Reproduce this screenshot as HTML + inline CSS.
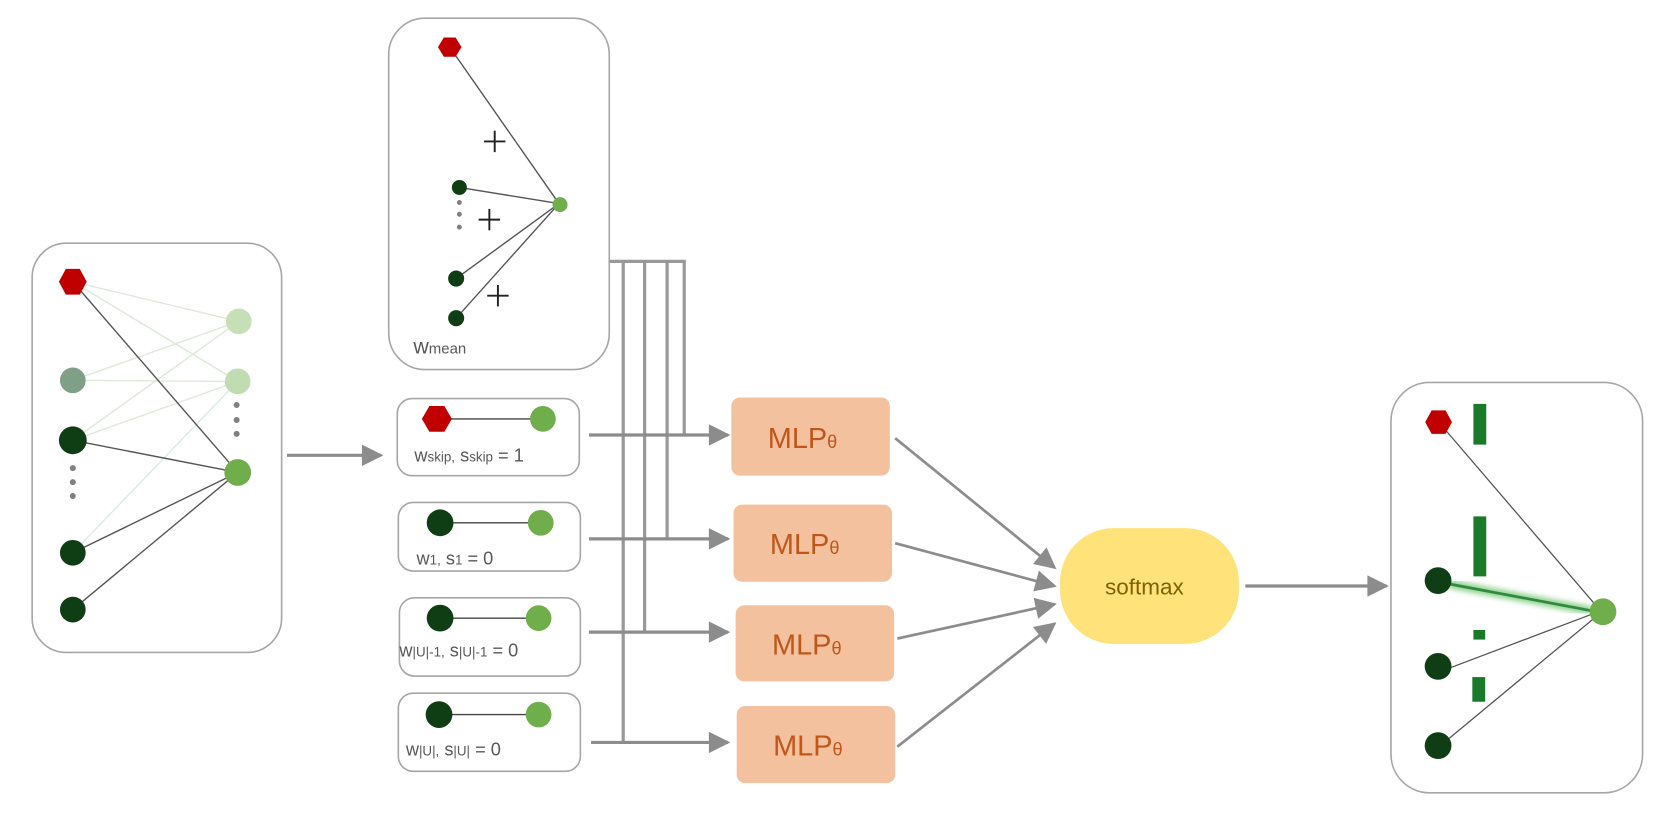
<!DOCTYPE html>
<html><head><meta charset="utf-8"><style>
html,body{margin:0;padding:0;background:#fff;}
svg{display:block;}
text{font-family:"Liberation Sans",sans-serif;}
</style></head><body>
<svg width="1679" height="826" viewBox="0 0 1568 771" preserveAspectRatio="none" xmlns="http://www.w3.org/2000/svg">
<defs>
<marker id="a2" viewBox="0 0 10 10" markerWidth="21" markerHeight="20" refX="9" refY="5" orient="auto" markerUnits="userSpaceOnUse"><path d="M0,0 L10,5 L0,10 Z" fill="#8c8c8c"/></marker>
<filter id="glow"><feGaussianBlur stdDeviation="2.5"/></filter>
</defs>

<!-- Left box -->
<rect x="30" y="227" width="233" height="382" rx="32" fill="#fff" stroke="#a6a6a6" stroke-width="1.5"/>
<g stroke-width="1.3">
<line x1="68" y1="263" x2="223" y2="300" stroke="#dfe8dc"/>
<line x1="68" y1="263" x2="222" y2="356" stroke="#dfe8dc"/>
<line x1="68" y1="355" x2="223" y2="300" stroke="#dfe8dc"/>
<line x1="68" y1="355" x2="222" y2="356" stroke="#dfe8dc"/>
<line x1="68" y1="411" x2="223" y2="300" stroke="#dfe8dc"/>
<line x1="68" y1="411" x2="222" y2="356" stroke="#dfe8dc"/>
<line x1="68" y1="516" x2="222" y2="356" stroke="#d9ebe3"/>
<line x1="68" y1="263" x2="222" y2="441" stroke="#555"/>
<line x1="68" y1="411" x2="222" y2="441" stroke="#555"/>
<line x1="68" y1="516" x2="222" y2="441" stroke="#555"/>
<line x1="68" y1="569" x2="222" y2="441" stroke="#555"/>
</g>
<polygon points="55,263 61.5,251 74.5,251 81,263 74.5,275 61.5,275" fill="#c00000"/>
<circle cx="68" cy="355" r="12" fill="#7f9f86"/>
<circle cx="68" cy="411" r="13" fill="#0f3d14"/>
<circle cx="68" cy="516" r="12" fill="#0f3d14"/>
<circle cx="68" cy="569" r="12" fill="#0f3d14"/>
<g fill="#808080"><circle cx="68" cy="437" r="2.8"/><circle cx="68" cy="450" r="2.8"/><circle cx="68" cy="463" r="2.8"/>
<circle cx="221" cy="378" r="2.8"/><circle cx="221" cy="392" r="2.8"/><circle cx="221" cy="405" r="2.8"/></g>
<circle cx="223" cy="300" r="12" fill="#c6dfb6"/>
<circle cx="222" cy="356" r="12" fill="#c2dcb2"/>
<circle cx="222" cy="441" r="12.5" fill="#6fae4a"/>

<line x1="268" y1="425" x2="356" y2="425" stroke="#8c8c8c" stroke-width="3" marker-end="url(#a2)"/>

<!-- Top mean box -->
<rect x="363" y="17" width="206" height="328" rx="34" fill="#fff" stroke="#a6a6a6" stroke-width="1.5"/>
<g stroke="#555" stroke-width="1.3">
<line x1="420" y1="44" x2="522" y2="190"/>
<line x1="429" y1="175" x2="522" y2="190"/>
<line x1="426" y1="260" x2="522" y2="190"/>
<line x1="426" y1="297" x2="522" y2="190"/>
</g>
<polygon points="409,44 414.5,35 425.5,35 431,44 425.5,53 414.5,53" fill="#c00000"/>
<circle cx="429" cy="175" r="7" fill="#0f3d14"/>
<circle cx="426" cy="260" r="7.5" fill="#0f3d14"/>
<circle cx="426" cy="297" r="7.5" fill="#0f3d14"/>
<circle cx="523" cy="191" r="7" fill="#6fae4a"/>
<g fill="#808080"><circle cx="429" cy="189" r="2.3"/><circle cx="429" cy="200" r="2.3"/><circle cx="429" cy="212" r="2.3"/></g>
<g stroke="#222" stroke-width="1.8">
<line x1="452" y1="132" x2="472" y2="132"/><line x1="462" y1="122" x2="462" y2="142"/>
<line x1="447" y1="205" x2="467" y2="205"/><line x1="457" y1="195" x2="457" y2="215"/>
<line x1="455" y1="276" x2="475" y2="276"/><line x1="465" y1="266" x2="465" y2="286"/>
</g>
<text x="386" y="330" font-size="20" fill="#595959">w<tspan font-size="14">mean</tspan></text>

<!-- skip boxes -->
<g stroke="#a6a6a6" stroke-width="1.5" fill="#fff">
<rect x="371" y="372" width="170" height="72" rx="14"/>
<rect x="372" y="469" width="170" height="64" rx="14"/>
<rect x="373" y="558" width="169" height="73" rx="14"/>
<rect x="372" y="647" width="170" height="73" rx="14"/>
</g>
<g stroke="#444" stroke-width="1.3">
<line x1="408" y1="391" x2="507" y2="391"/>
<line x1="411" y1="488" x2="505" y2="488"/>
<line x1="411" y1="577" x2="503" y2="577"/>
<line x1="410" y1="667" x2="503" y2="667"/>
</g>
<polygon points="394,391 401,379 415,379 422,391 415,403 401,403" fill="#c00000"/>
<circle cx="507" cy="391" r="12" fill="#6fae4a"/>
<circle cx="411" cy="488" r="12.5" fill="#0f3d14"/><circle cx="505" cy="488" r="12" fill="#6fae4a"/>
<circle cx="411" cy="577" r="12.5" fill="#0f3d14"/><circle cx="503" cy="577" r="12" fill="#6fae4a"/>
<circle cx="410" cy="667" r="12.5" fill="#0f3d14"/><circle cx="503" cy="667" r="12" fill="#6fae4a"/>
<g fill="#595959" font-size="17">
<text x="387" y="431">w<tspan font-size="12.5">skip,</tspan> s<tspan font-size="12.5">skip</tspan> = 1</text>
<text x="389" y="527">w<tspan font-size="12.5">1,</tspan> s<tspan font-size="12.5">1</tspan> = 0</text>
<text x="373" y="613">w<tspan font-size="12.5">|U|-1,</tspan> s<tspan font-size="12.5">|U|-1</tspan> = 0</text>
<text x="379" y="705">w<tspan font-size="12.5">|U|,</tspan> s<tspan font-size="12.5">|U|</tspan> = 0</text>
</g>

<!-- connectors -->
<g stroke="#999" stroke-width="3" fill="none">
<polyline points="569,244 639,244 639,406"/>
<line x1="582" y1="244" x2="582" y2="693"/>
<line x1="602" y1="244" x2="602" y2="590"/>
<line x1="623" y1="244" x2="623" y2="503"/>
</g>
<g stroke="#8c8c8c" stroke-width="3">
<line x1="550" y1="406" x2="680" y2="406" marker-end="url(#a2)"/>
<line x1="550" y1="503" x2="680" y2="503" marker-end="url(#a2)"/>
<line x1="550" y1="590" x2="680" y2="590" marker-end="url(#a2)"/>
<line x1="552" y1="693" x2="680" y2="693" marker-end="url(#a2)"/>
</g>

<!-- MLPs -->
<g fill="#f4c19f">
<rect x="683" y="371" width="148" height="73" rx="8"/>
<rect x="685" y="471" width="148" height="72" rx="8"/>
<rect x="687" y="565" width="148" height="71" rx="8"/>
<rect x="688" y="659" width="148" height="72" rx="8"/>
</g>
<g fill="#c0561a" font-size="27">
<text x="717" y="418">MLP<tspan font-size="17">θ</tspan></text>
<text x="719" y="517">MLP<tspan font-size="17">θ</tspan></text>
<text x="721" y="611">MLP<tspan font-size="17">θ</tspan></text>
<text x="722" y="705">MLP<tspan font-size="17">θ</tspan></text>
</g>
<g stroke="#8c8c8c" stroke-width="2.5">
<line x1="836" y1="409" x2="985" y2="530" marker-end="url(#a2)"/>
<line x1="836" y1="507" x2="985" y2="547" marker-end="url(#a2)"/>
<line x1="838" y1="596" x2="985" y2="564" marker-end="url(#a2)"/>
<line x1="838" y1="697" x2="985" y2="582" marker-end="url(#a2)"/>
</g>

<!-- softmax -->
<rect x="990" y="493" width="167" height="108" rx="50" fill="#ffe27a"/>
<text x="1032" y="555" font-size="21" fill="#7f6000">softmax</text>
<line x1="1163" y1="547" x2="1295" y2="547" stroke="#8c8c8c" stroke-width="3" marker-end="url(#a2)"/>

<!-- Right box -->
<rect x="1299" y="357" width="235" height="383" rx="36" fill="#fff" stroke="#a6a6a6" stroke-width="1.5"/>
<g stroke="#555" stroke-width="1.2">
<line x1="1347" y1="398" x2="1492" y2="567"/>
<line x1="1350" y1="625" x2="1490" y2="572"/>
<line x1="1350" y1="692" x2="1490" y2="576"/>
</g>
<line x1="1353" y1="545" x2="1486" y2="570" stroke="#8fd08f" stroke-width="8" filter="url(#glow)"/>
<line x1="1353" y1="545" x2="1486" y2="570" stroke="#2e8b3e" stroke-width="2.5"/>
<polygon points="1331,394 1337,383 1350,383 1356,394 1350,405 1337,405" fill="#c00000"/>
<g fill="#1a7a2a">
<rect x="1376" y="377" width="12" height="38"/>
<rect x="1376" y="482" width="12" height="56"/>
<rect x="1376" y="588" width="11" height="9"/>
<rect x="1375" y="632" width="12" height="23"/>
</g>
<circle cx="1343" cy="542" r="12.5" fill="#0f3d14"/>
<circle cx="1343" cy="622" r="12.5" fill="#0f3d14"/>
<circle cx="1343" cy="696" r="12.5" fill="#0f3d14"/>
<circle cx="1497" cy="571" r="12.5" fill="#6fae4a"/>
</svg>
</body></html>
